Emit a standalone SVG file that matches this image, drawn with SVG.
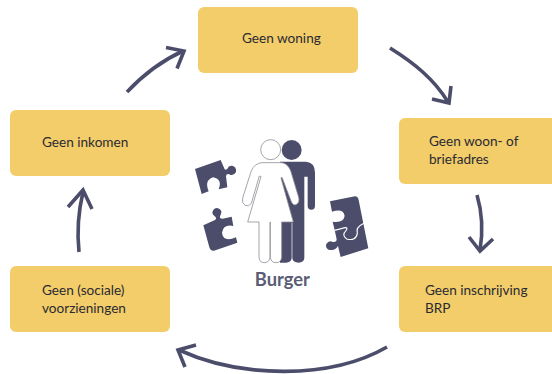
<svg xmlns="http://www.w3.org/2000/svg" width="552" height="374" viewBox="0 0 552 374">
<style>
.box{fill:#f2cd69}
.t{font-family:Lato,"Open Sans",sans-serif;font-size:13.600px;fill:#2b2a33}
.a{fill:none;stroke:#4b4d6b;stroke-width:3.600;stroke-linecap:butt;stroke-linejoin:miter}
.d{fill:#4b4d6b}
.w{fill:#fff;stroke:#8e8e96;stroke-width:2.400}
</style>
<rect width="552" height="374" fill="#fff"/>
<g id="connectors">
<path class="a" d="M127 92C143 75 161 61 183 51"/><path class="a" d="M166 47.500L184 51L177 68.500"/>
<path class="a" d="M390 48C414 63 434 79 448 102"/><path class="a" d="M432 99L449 103L451 86"/>
<path class="a" d="M477 195C482 212 483 232 480 250"/><path class="a" d="M469 237L480 251L493 239"/>
<path class="a" d="M387 347C330 380 240 378 179 350"/><path class="a" d="M196 345L178 350L185 367"/>
<path class="a" d="M79 252C77 233 78 213 83 192"/><path class="a" d="M68 207L83 190L92 209"/>
</g>
<g id="n1"><rect class="box" x="198" y="7" width="160" height="66" rx="6"/><text class="t" x="242" y="43">Geen woning</text></g>
<g id="n2"><rect class="box" x="399" y="118" width="160" height="66" rx="6"/><text class="t"><tspan x="429" y="146">Geen woon- of</tspan><tspan x="429" y="164">briefadres</tspan></text></g>
<g id="n3"><rect class="box" x="399" y="266" width="160" height="66" rx="6"/><text class="t"><tspan x="425" y="295">Geen inschrijving</tspan><tspan x="425" y="313">BRP</tspan></text></g>
<g id="n4"><rect class="box" x="10" y="266" width="160" height="66" rx="6"/><text class="t"><tspan x="42" y="295">Geen (sociale)</tspan><tspan x="42" y="313">voorzieningen</tspan></text></g>
<g id="n5"><rect class="box" x="10" y="110" width="160" height="66" rx="6"/><text class="t" x="42" y="147">Geen inkomen</text></g>
<g id="burger" transform="translate(180 120) scale(.3333)">
<circle class="d" cx="335" cy="90" r="30"/>
<path class="d" d="M300 125H378Q405 127 405 158V258A11 11 0 0 1 383 258V170H373V415Q371 428 356 428Q339 428 337 415V308H335V415Q333 428 318 428H300Z"/>
<circle class="w" cx="272" cy="89" r="30"/>
<path class="w" d="M246 128H306Q322 130 332 152L356 232Q360 248 348 254Q338 258 332 240L306 172L303 174L340 306H305V412Q303 428 288 428Q273 428 271 412V306H270V412Q268 428 253 428Q238 428 237 412V306H203L243 170L238 168L214 250Q206 262 195 256Q184 248 188 234L214 152Q224 130 246 128Z"/>
<path class="d" d="M45 147L122 120L134 148Q140 152 146 140A14 14 0 1 1 152 165Q140 158 138 168L142 202L116 208Q128 178 100 172Q72 180 86 214L65 222Z"/>
<path class="d" d="M70 316L105 300Q113 295 103 288A13 13 0 1 1 122 284Q115 296 128 296L155 290L160 318Q130 312 126 338Q130 368 168 352L172 368L102 392Q92 394 88 382Z"/>
<path class="d" d="M450 244L525 229Q534 229 536 240L565 385L482 411L474 378Q466 392 452 390A13 13 0 1 1 458 366Q470 368 470 358L464 330L458 305Q490 310 494 288Q490 264 456 275Z"/>
<path fill="none" stroke="#fff" stroke-width="3.500" d="M464 331L495 323Q505 322 498 332Q484 346 500 357Q528 364 532 340Q526 322 552 310"/>
<text x="307" y="498" text-anchor="middle" font-family="Lato,'Open Sans',sans-serif" font-size="55" font-weight="700" fill="#5b5c75">Burger</text>
</g>
</svg>
